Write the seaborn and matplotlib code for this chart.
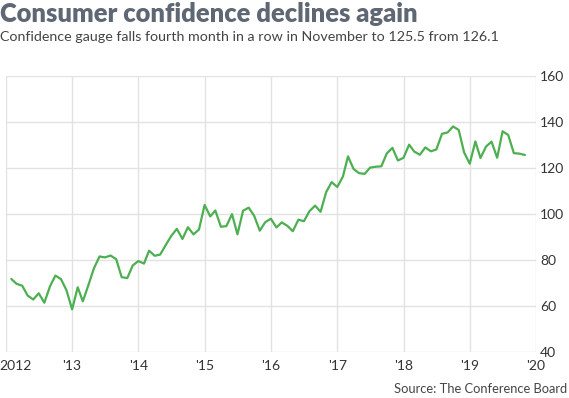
import numpy as np
import pandas as pd
import seaborn as sns
import matplotlib.pyplot as plt
import matplotlib.transforms as mtransforms

# Conference Board consumer confidence index, monthly, Feb 2012 - Nov 2019
conf_2012 = [71.6, 69.5, 68.7, 64.4, 62.7, 65.4, 61.3, 68.4, 73.1, 71.5, 66.7]
conf_2013 = [58.4, 68.0, 61.9, 69.0, 76.2, 81.4, 81.0, 81.8, 80.2, 72.4, 72.0, 77.5]
conf_2014 = [79.4, 78.3, 83.9, 81.7, 82.2, 86.4, 90.3, 93.4, 89.0, 94.1, 91.0, 93.1]
conf_2015 = [103.8, 98.8, 101.4, 94.3, 94.6, 99.8, 91.0, 101.3, 102.6, 99.1, 92.6, 96.3]
conf_2016 = [97.8, 94.0, 96.2, 94.7, 92.4, 97.4, 96.7, 101.1, 103.5, 100.8, 109.4, 113.7]
conf_2017 = [111.6, 116.1, 124.9, 119.4, 117.6, 117.3, 120.0, 120.4, 120.6, 126.2, 128.6, 123.1]
conf_2018 = [124.3, 130.0, 127.0, 125.6, 128.8, 127.1, 127.9, 134.7, 135.3, 137.9, 136.4, 126.6]
conf_2019 = [121.7, 131.4, 124.2, 129.2, 131.3, 124.3, 135.8, 134.2, 126.3, 126.1, 125.5]

values = (conf_2012 + conf_2013 + conf_2014 + conf_2015 + conf_2016
          + conf_2017 + conf_2018 + conf_2019)
months = pd.date_range("2012-02-01", periods=len(values), freq="MS")
df = pd.DataFrame({"month": months, "index": values})

year_ticks = pd.date_range("2012-01-01", "2020-01-01", freq="YS")
year_labels = ["2012", "'13", "'14", "'15", "'16", "'17", "'18", "'19", "'20"]
y_ticks = [40, 60, 80, 100, 120, 140, 160]

sns.set_style("whitegrid")
plt.rcParams["font.family"] = ["Lato", "DejaVu Sans"]

fig = plt.figure(figsize=(5.69, 3.98), dpi=100)
ax = fig.add_axes([0.010, 0.1163, 0.932, 0.6937])

sns.lineplot(data=df, x="month", y="index", color="#4caf50", linewidth=1.6, ax=ax)

ax.set_xlim(year_ticks[0], year_ticks[-1])
ax.set_ylim(40, 160)
ax.set_xticks(year_ticks)
ax.set_xticklabels(year_labels)
ax.set_yticks(y_ticks)
ax.yaxis.tick_right()
ax.tick_params(axis="both", length=0, labelsize=10, labelcolor="#333333")
ax.tick_params(axis="x", pad=6)
ax.tick_params(axis="y", pad=3)
ax.grid(True, color="#e2e2e2", linewidth=1)
for s in ax.spines.values():
    s.set_visible(False)
ax.set_xlabel("")
ax.set_ylabel("")

# first year label sits flush with the left edge
first = ax.get_xticklabels()[0]
first.set_ha("left")
first.set_transform(first.get_transform() +
                    mtransforms.ScaledTranslation(-6 / 100, 0, fig.dpi_scale_trans))

fig.text(0.0, 0.945, "Consumer confidence declines again", fontsize=18.4,
         fontweight="heavy", color="#5f6774", ha="left", va="baseline")
fig.text(0.0, 0.898, "Confidence gauge falls fourth month in a row in November to 125.5 from 126.1",
         fontsize=10.3, color="#444444", ha="left", va="baseline")
fig.text(0.997, 0.012, "Source: The Conference Board", fontsize=9.3,
         color="#444444", ha="right", va="baseline")

fig.savefig("out.png", dpi=100)
